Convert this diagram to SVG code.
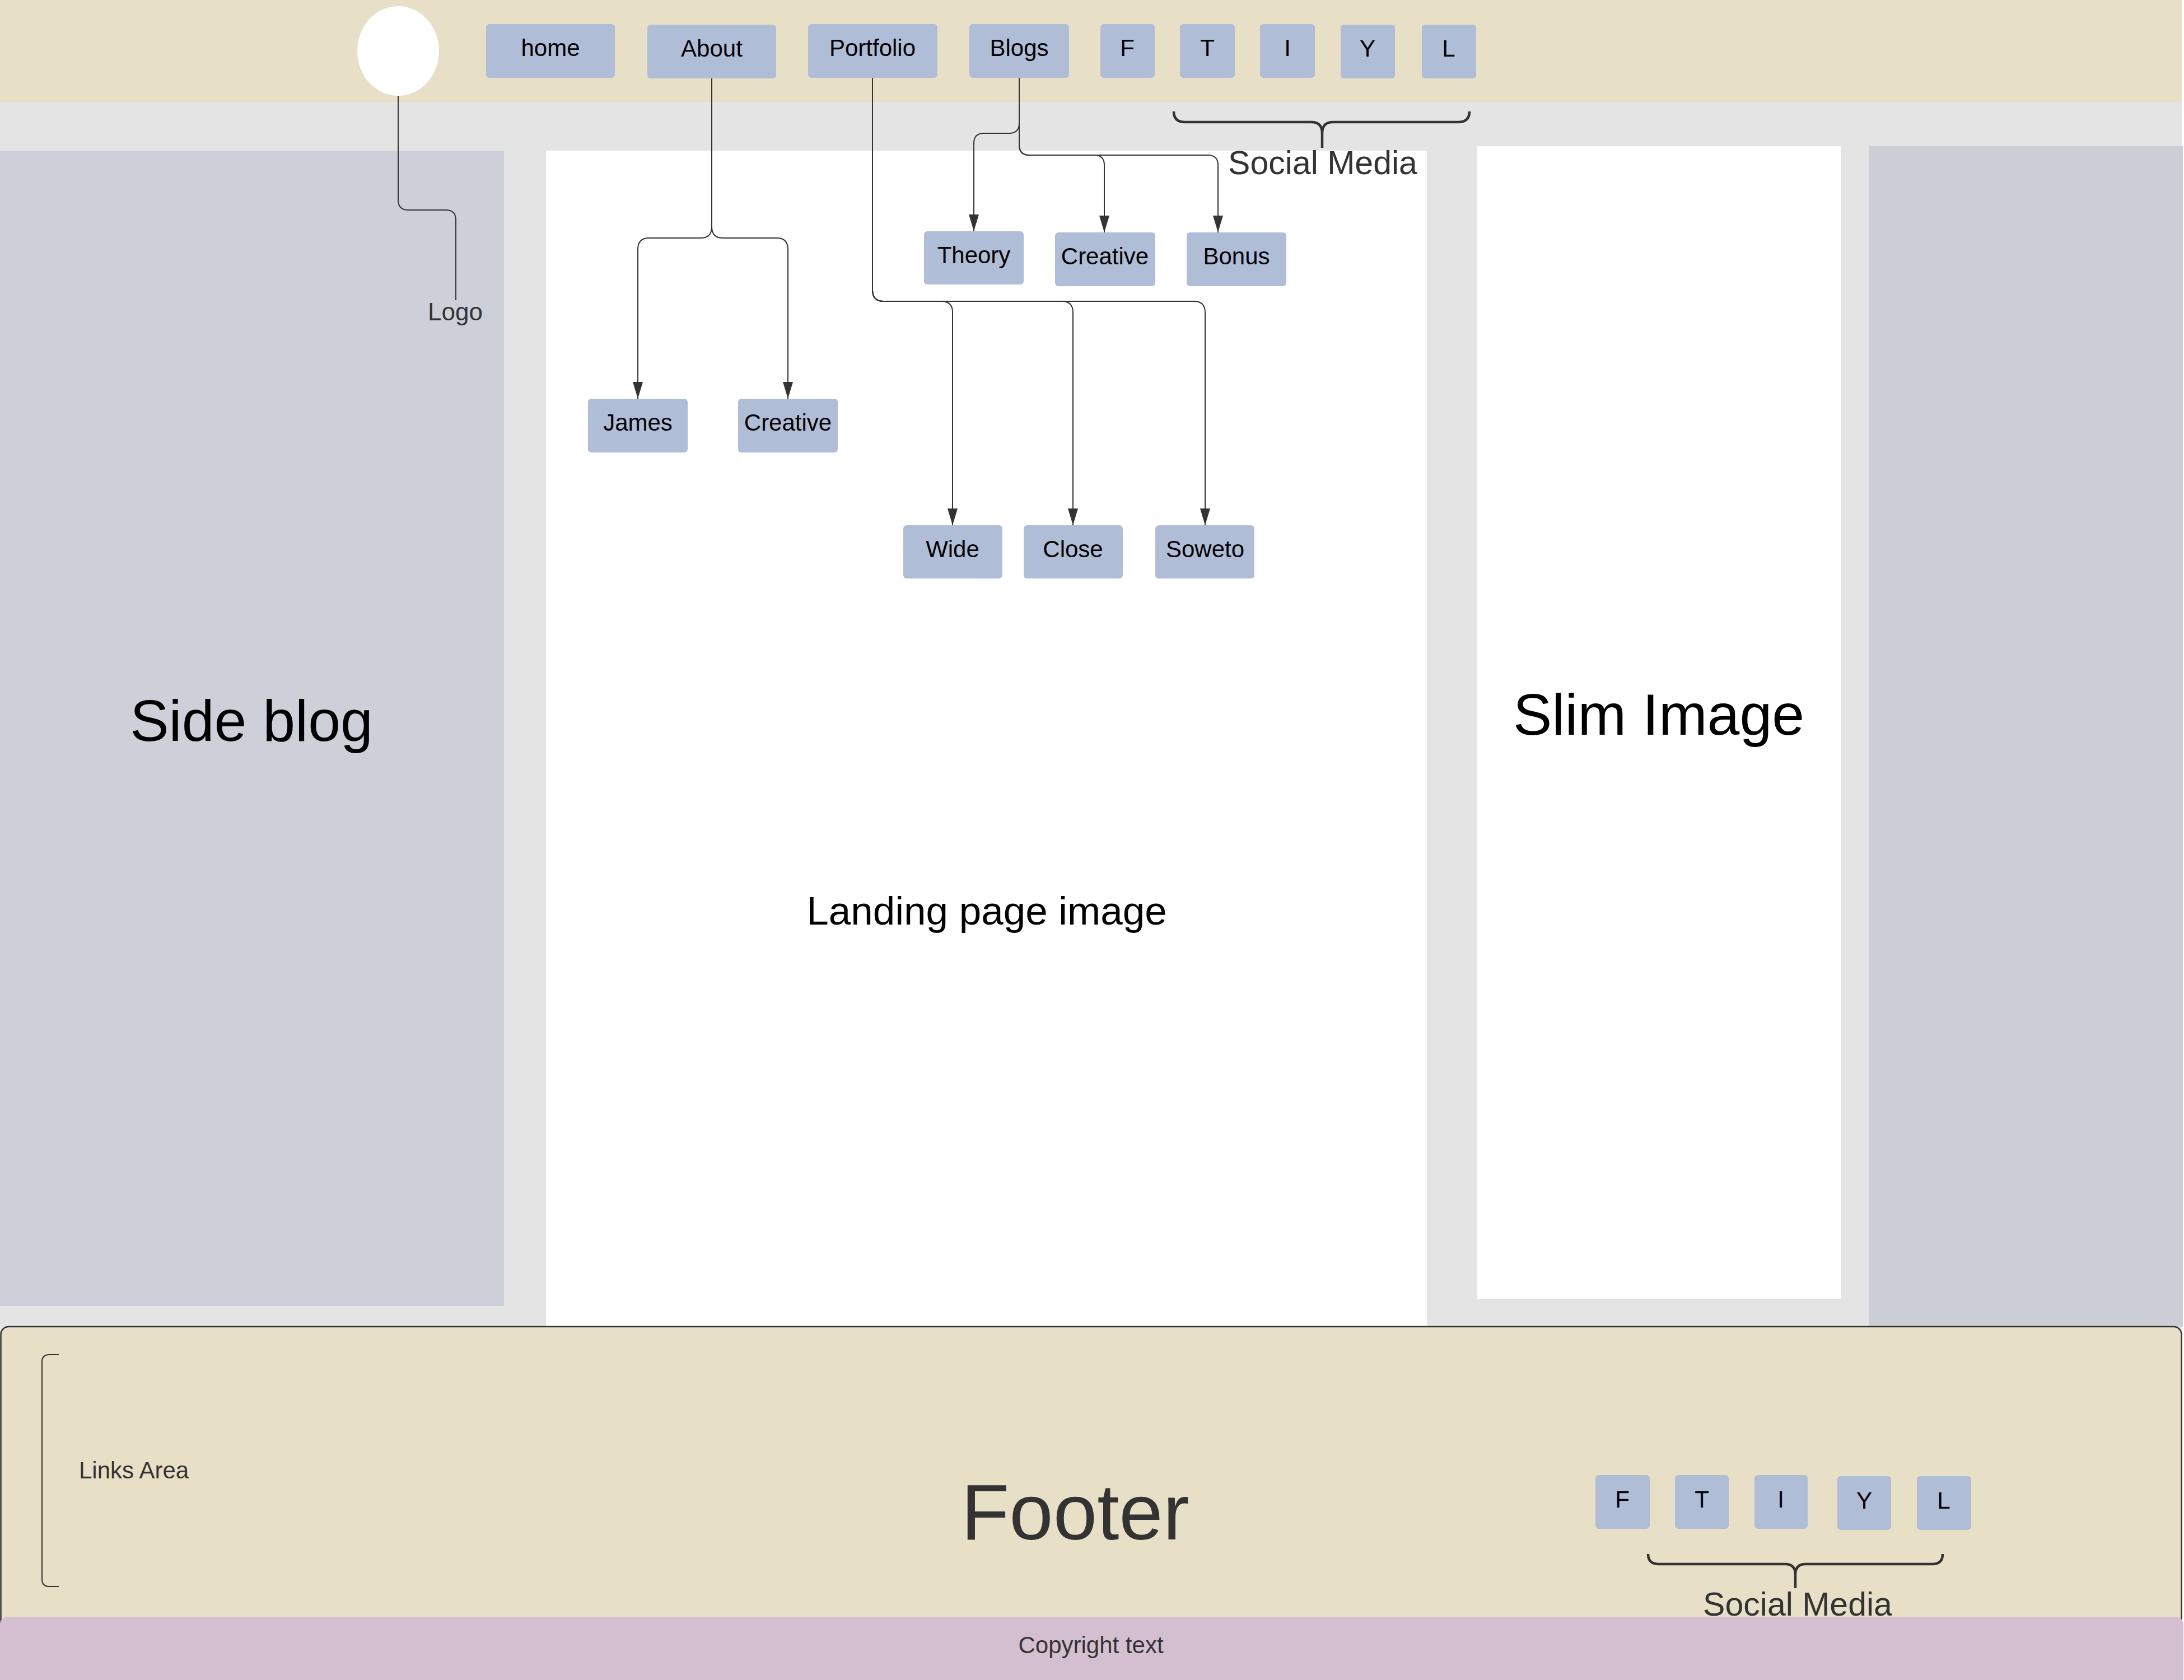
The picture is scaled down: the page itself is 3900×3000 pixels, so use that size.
<svg xmlns="http://www.w3.org/2000/svg" width="3900" height="3000" viewBox="0 0 3900 3000">
  <defs>
    <marker id="arrow" markerUnits="userSpaceOnUse" markerWidth="30" markerHeight="18" refX="30" refY="9" orient="auto">
      <path d="M0,0 L30,9 L0,18 Z" fill="#333333"/>
    </marker>
  </defs>
  <style>
    text { font-family: "Liberation Sans", Arial, sans-serif; }
    .btn { fill: #b0bdd7; }
    .btn-label { font-size: 42px; fill: #000000; text-anchor: middle; }
    .conn { fill: none; stroke: #333333; stroke-width: 2; }
    .arrowed { marker-end: url(#arrow); }
    .brace { fill: none; stroke: #333333; stroke-width: 4.5; stroke-linejoin: round; }
    .big { fill: #000000; text-anchor: middle; }
    .note { fill: #333333; }
  </style>

  <!-- page background -->
  <rect x="0" y="0" width="3900" height="3000" fill="#ffffff"/>
  <rect id="gutter" x="0" y="182" width="3896" height="2200" fill="#e4e4e4"/>

  <!-- header bar -->
  <g id="header">
    <rect x="0" y="0" width="3896" height="182" fill="#e8dfc7"/>
  </g>

  <!-- page regions -->
  <g id="side-blog">
    <rect x="0" y="269" width="900" height="2063" fill="#cdd0d8"/>
    <text class="big" x="449" y="1323" font-size="104">Side blog</text>
  </g>
  <g id="landing-image">
    <rect x="975" y="269" width="1573" height="2100" fill="#ffffff"/>
    <text class="big" x="1762" y="1651" font-size="71">Landing page image</text>
  </g>
  <g id="slim-image">
    <rect x="2638" y="261" width="649" height="2059" fill="#ffffff"/>
    <text class="big" x="2962" y="1312" font-size="104">Slim Image</text>
  </g>
  <g id="right-panel">
    <rect x="3338" y="261" width="560" height="2108" fill="#cbced4"/>
  </g>

  <!-- logo -->
  <g id="logo">
    <ellipse cx="711" cy="91" rx="73" ry="80" fill="#ffffff"/>
  </g>
  <g id="logo-label">
    <text class="note" x="813" y="572" font-size="44" text-anchor="middle">Logo</text>
  </g>

  <!-- connectors -->
  <g id="connectors">
    <path class="conn" d="M711 171 V357 Q711 375 729 375 H796 Q814 375 814 393 V536"/>
    <path class="conn arrowed" d="M1271 140 V405 Q1271 425 1251 425 H1159 Q1139 425 1139 445 V712"/>
    <path class="conn arrowed" d="M1271 140 V405 Q1271 425 1291 425 H1387 Q1407 425 1407 445 V712"/>
    <path class="conn arrowed" d="M1558 138 V518 Q1558 538 1578 538 H1681 Q1701 538 1701 558 V938"/>
    <path class="conn arrowed" d="M1558 138 V518 Q1558 538 1578 538 H1896 Q1916 538 1916 558 V938"/>
    <path class="conn arrowed" d="M1558 138 V518 Q1558 538 1578 538 H2132 Q2152 538 2152 558 V938"/>
    <path class="conn arrowed" d="M1820 138 V220 Q1820 238 1802 238 H1757 Q1739 238 1739 256 V413"/>
    <path class="conn arrowed" d="M1820 138 V259 Q1820 277 1838 277 H1954 Q1972 277 1972 295 V415"/>
    <path class="conn arrowed" d="M1820 138 V259 Q1820 277 1838 277 H2157 Q2175 277 2175 295 V415"/>
  </g>

  <!-- navigation buttons -->
  <g id="nav-home"><rect class="btn" x="868" y="43" width="230" height="96" rx="6"/><text class="btn-label" x="983" y="100">home</text></g>
  <g id="nav-about"><rect class="btn" x="1156" y="44" width="230" height="96" rx="6"/><text class="btn-label" x="1271" y="101">About</text></g>
  <g id="nav-portfolio"><rect class="btn" x="1443" y="43" width="231" height="96" rx="6"/><text class="btn-label" x="1558" y="100">Portfolio</text></g>
  <g id="nav-blogs"><rect class="btn" x="1731" y="43" width="178" height="96" rx="6"/><text class="btn-label" x="1820" y="100">Blogs</text></g>
  <g id="nav-f"><rect class="btn" x="1965" y="43" width="97" height="96" rx="6"/><text class="btn-label" x="2013" y="100">F</text></g>
  <g id="nav-t"><rect class="btn" x="2107" y="43" width="98" height="96" rx="6"/><text class="btn-label" x="2156" y="100">T</text></g>
  <g id="nav-i"><rect class="btn" x="2250" y="43" width="98" height="96" rx="6"/><text class="btn-label" x="2299" y="100">I</text></g>
  <g id="nav-y"><rect class="btn" x="2394" y="44" width="97" height="96" rx="6"/><text class="btn-label" x="2442" y="101">Y</text></g>
  <g id="nav-l"><rect class="btn" x="2539" y="44" width="97" height="96" rx="6"/><text class="btn-label" x="2587" y="101">L</text></g>

  <!-- header social media brace -->
  <g id="header-social-label">
    <path class="brace" d="M2096 199 Q2096 218 2116 218 H2342 Q2361 218 2361 238 L2361 264 M2361 238 Q2361 218 2380 218 H2604 Q2624 218 2624 199"/>
    <text class="note" x="2362" y="311" font-size="59" text-anchor="middle">Social Media</text>
  </g>

  <!-- sub pages -->
  <g id="sub-theory"><rect class="btn" x="1650" y="413" width="178" height="95" rx="6"/><text class="btn-label" x="1739" y="470">Theory</text></g>
  <g id="sub-creative-blog"><rect class="btn" x="1884" y="415" width="179" height="96" rx="6"/><text class="btn-label" x="1973" y="472">Creative</text></g>
  <g id="sub-bonus"><rect class="btn" x="2119" y="415" width="178" height="96" rx="6"/><text class="btn-label" x="2208" y="472">Bonus</text></g>
  <g id="sub-james"><rect class="btn" x="1050" y="712" width="178" height="96" rx="6"/><text class="btn-label" x="1139" y="769">James</text></g>
  <g id="sub-creative-about"><rect class="btn" x="1318" y="712" width="178" height="96" rx="6"/><text class="btn-label" x="1407" y="769">Creative</text></g>
  <g id="sub-wide"><rect class="btn" x="1613" y="938" width="177" height="95" rx="6"/><text class="btn-label" x="1701" y="995">Wide</text></g>
  <g id="sub-close"><rect class="btn" x="1828" y="938" width="177" height="95" rx="6"/><text class="btn-label" x="1916" y="995">Close</text></g>
  <g id="sub-soweto"><rect class="btn" x="2063" y="938" width="177" height="95" rx="6"/><text class="btn-label" x="2152" y="995">Soweto</text></g>

  <!-- footer -->
  <g id="footer">
    <rect x="1.5" y="2369" width="3894" height="640" rx="14" fill="#e8dfc7" stroke="#333333" stroke-width="2.5"/>
    <text class="note" x="1920" y="2749" font-size="141" text-anchor="middle">Footer</text>
  </g>
  <g id="footer-links">
    <path class="conn" d="M105 2419 H88 Q75 2419 75 2432 V2820 Q75 2833 88 2833 H105"/>
    <text class="note" x="141" y="2640" font-size="42">Links Area</text>
  </g>
  <g id="footer-f"><rect class="btn" x="2849" y="2634" width="97" height="96" rx="6"/><text class="btn-label" x="2897" y="2692">F</text></g>
  <g id="footer-t"><rect class="btn" x="2991" y="2634" width="96" height="96" rx="6"/><text class="btn-label" x="3039" y="2692">T</text></g>
  <g id="footer-i"><rect class="btn" x="3133" y="2634" width="95" height="96" rx="6"/><text class="btn-label" x="3180" y="2692">I</text></g>
  <g id="footer-y"><rect class="btn" x="3281" y="2636" width="96" height="96" rx="6"/><text class="btn-label" x="3329" y="2694">Y</text></g>
  <g id="footer-l"><rect class="btn" x="3423" y="2636" width="97" height="96" rx="6"/><text class="btn-label" x="3471" y="2694">L</text></g>
  <g id="footer-social-label">
    <path class="brace" d="M2943 2775 Q2943 2793 2962 2793 H3188 Q3206 2793 3206 2812 L3206 2836 M3206 2812 Q3206 2793 3224 2793 H3451 Q3469 2793 3469 2775"/>
    <text class="note" x="3210" y="2885" font-size="59" text-anchor="middle">Social Media</text>
  </g>

  <!-- copyright strip -->
  <g id="copyright">
    <rect x="0" y="2887" width="3899" height="125" rx="14" fill="#d4bfd0"/>
    <text class="note" x="1948" y="2952" font-size="42" text-anchor="middle">Copyright text</text>
  </g>
</svg>
